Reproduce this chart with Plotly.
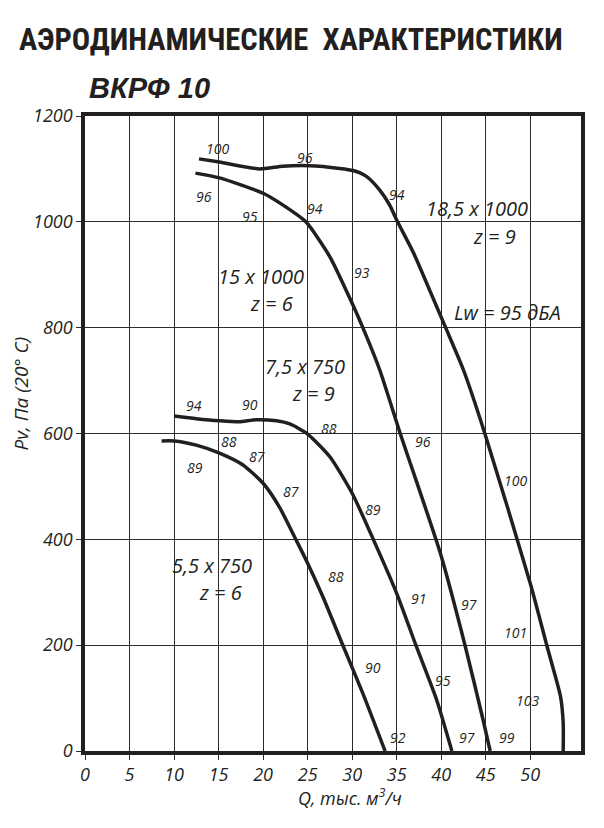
import plotly.graph_objects as go

# --- Данные кривых (Q, тыс. м3/ч ; Pv, Па) ---
q_185 = [12.8, 15.1, 19.6, 22.2, 25.2, 28.6, 30.1, 31.6, 33.1, 34.2, 35.1, 36.9, 38.7, 40.5,
         42.5, 44.9, 50.0, 51.9, 53.4, 53.7, 53.7]
p_185 = [1119, 1113, 1100, 1105, 1106, 1101, 1097, 1086, 1060, 1032, 1000, 941, 871, 800,
         720, 600, 317, 197, 103, 53, 0]

q_15 = [12.4, 15.1, 20.0, 22.2, 24.8, 27.5, 30.0, 31.2, 33.1, 35.4, 39.9, 42.7, 44.7, 45.5]
p_15 = [1092, 1083, 1054, 1032, 1000, 934, 846, 800, 720, 600, 374, 198, 59, 0]

q_75 = [10.0, 12.5, 15.1, 17.3, 19.2, 21.5, 23.0, 25.0, 27.5, 30.0, 32.4, 35.0, 37.2, 39.5, 41.2]
p_75 = [633, 628, 624, 622, 626, 624, 618, 599, 556, 487, 399, 298, 198, 96, 0]

q_55 = [8.6, 10.0, 12.5, 15.1, 17.7, 20.0, 21.8, 23.7, 25.0, 26.7, 29.0, 31.2, 33.7]
p_55 = [586, 586, 578, 563, 541, 506, 462, 399, 355, 292, 198, 109, 0]

# --- Уровни шума вдоль кривых ---
lw_q = [14.9, 24.7, 35.0, 48.3, 48.3, 49.7,
        13.4, 18.5, 25.8, 31.1, 38.0, 43.1, 47.4,
        12.2, 18.5, 27.4, 32.3, 37.4, 40.2, 42.9,
        12.3, 16.2, 19.3, 23.1, 28.2, 32.3, 35.1]
lw_p = [1138, 1121, 1051, 512, 224, 96,
        1047, 1011, 1025, 904, 584, 276, 25,
        652, 654, 609, 456, 289, 134, 25,
        535, 584, 556, 490, 329, 157, 25]
lw_txt = ["100", "96", "94", "100", "101", "103",
          "96", "95", "94", "93", "96", "97", "99",
          "94", "90", "88", "89", "91", "95", "97",
          "89", "88", "87", "87", "88", "90", "92"]

# --- Подписи типоразмеров ---
name_q = [44.0, 46.0, 19.8, 20.9, 47.5, 24.7, 25.7, 14.3, 15.2]
name_p = [1025, 972, 896, 845, 828, 726, 675, 350, 299]
name_txt = ["18,5 x 1000", "z = 9", "15 x 1000", "z = 6", "Lw = 95 дБА",
            "7,5 x 750", "z = 9", "5,5 x 750", "z = 6"]

x_ticks = [0, 5, 10, 15, 20, 25, 30, 35, 40, 45, 50]
y_ticks = [0, 200, 400, 600, 800, 1000, 1200]

INK = "#231f20"
FONT = "Open Sans, Noto Sans, sans-serif"

fig = go.Figure()

for q, p in [(q_185, p_185), (q_15, p_15), (q_75, p_75), (q_55, p_55)]:
    fig.add_trace(go.Scatter(
        x=q, y=p, mode="lines",
        line=dict(color=INK, width=3.5, shape="spline", smoothing=0.6),
        showlegend=False, hoverinfo="skip",
    ))

for q, p, t in zip(lw_q, lw_p, lw_txt):
    fig.add_annotation(x=q, y=p, text=t, showarrow=False,
                       font=dict(family=FONT, size=14, color=INK, style="italic"))

for q, p, t in zip(name_q, name_p, name_txt):
    fig.add_annotation(x=q, y=p, text=t, showarrow=False,
                       font=dict(family=FONT, size=20, color=INK, style="italic"))

# заголовки
fig.add_annotation(xref="paper", yref="paper", x=-0.137, y=1.12,
                   xanchor="left", yanchor="middle", showarrow=False,
                   text="АЭРОДИНАМИЧЕСКИЕ  ХАРАКТЕРИСТИКИ",
                   font=dict(family="Roboto Condensed, DejaVu Sans Condensed, Roboto, sans-serif",
                             size=30.5, color=INK, weight="bold"))
fig.add_annotation(xref="paper", yref="paper", x=0.004, y=1.044,
                   xanchor="left", yanchor="middle", showarrow=False,
                   text="ВКРФ 10",
                   font=dict(family="Liberation Sans, Arial, sans-serif",
                             size=29, color=INK, weight="bold", style="italic"))
fig.add_annotation(xref="paper", yref="paper", x=0.534, y=-0.072,
                   xanchor="center", yanchor="middle", showarrow=False,
                   text="Q, тыс. м<sup>3</sup>/ч",
                   font=dict(family=FONT, size=18, color=INK, style="italic"))
fig.add_annotation(xref="paper", yref="paper", x=-0.129, y=0.563,
                   xanchor="center", yanchor="middle", showarrow=False, textangle=-90,
                   text="Pv, Па (20° С)",
                   font=dict(family=FONT, size=19, color=INK, style="italic"))

fig.update_xaxes(
    range=[0, 55.7], tickvals=x_ticks, ticktext=[str(v) for v in x_ticks],
    showgrid=True, gridcolor="#2b2b2b", gridwidth=1.3,
    showline=True, mirror=True, linecolor=INK, linewidth=3.5,
    zeroline=False, ticks="outside", ticklen=5, tickwidth=1.3, tickcolor="#2b2b2b",
    tickfont=dict(family=FONT, size=18, color=INK, style="italic"),
)
fig.update_yaxes(
    range=[0, 1200], tickvals=y_ticks, ticktext=[str(v) for v in y_ticks],
    showgrid=True, gridcolor="#2b2b2b", gridwidth=1.3,
    showline=True, mirror=True, linecolor=INK, linewidth=3.5,
    zeroline=False, ticks="outside", ticklen=5, tickwidth=1.3, tickcolor="#2b2b2b",
    tickfont=dict(family=FONT, size=18, color=INK, style="italic"),
)

# страница смещена на 8 px (отступ body), поэтому холст чуть меньше окна
fig.update_layout(
    width=596, height=820,
    margin=dict(l=77, r=23, t=108, b=77),
    paper_bgcolor="white", plot_bgcolor="white",
    showlegend=False,
)

fig.write_html("out.html")
